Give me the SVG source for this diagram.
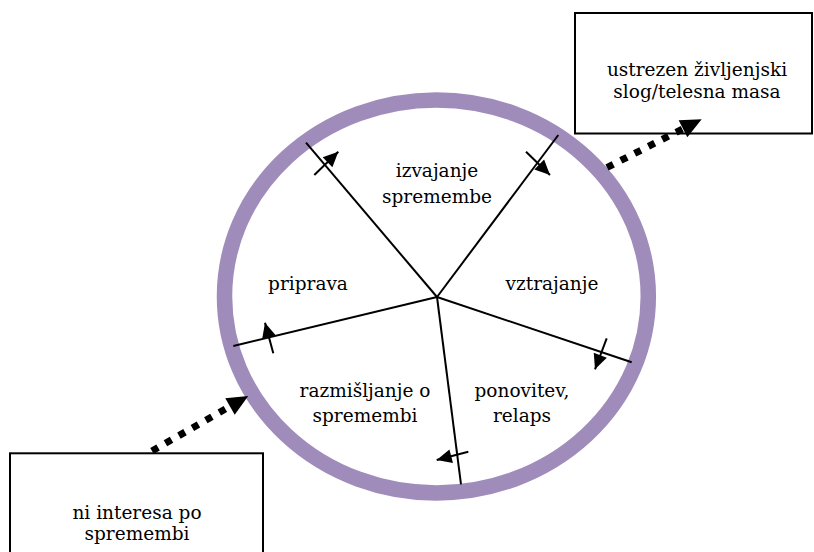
<svg xmlns="http://www.w3.org/2000/svg" width="814" height="552" viewBox="0 0 814 552">
<style>
text{font-family:"DejaVu Serif","Liberation Serif",serif;font-size:18.5px;fill:#000;text-anchor:middle}
.box{fill:#fff;stroke:#000;stroke-width:2}
.spoke{stroke:#000;stroke-width:2;fill:none}
.tick{stroke:#000;stroke-width:2;fill:none;marker-end:url(#sa)}
.dot{stroke:#000;stroke-width:7;stroke-dasharray:7 8.5;fill:none;marker-end:url(#ba)}
</style>
<defs>
<marker id="sa" markerUnits="userSpaceOnUse" markerWidth="16" markerHeight="15" refX="15" refY="7" orient="auto" viewBox="0 0 16 14" overflow="visible">
<path d="M0,0 L15,7 L0,14 Z" fill="#000"/>
</marker>
<marker id="ba" markerUnits="userSpaceOnUse" markerWidth="22" markerHeight="20" refX="0" refY="9.5" orient="auto" viewBox="0 0 22 19" overflow="visible">
<path d="M0,0 L21,9.5 L0,19 Z" fill="#000"/>
</marker>
</defs>
<g id="box-ustrezen">
<rect class="box" x="575" y="13" width="237" height="120.5"/>
<text x="697" y="76">ustrezen življenjski</text><text x="697" y="98">slog/telesna masa</text>
</g>
<g id="box-ni-interesa">
<rect class="box" x="10" y="453.3" width="253" height="110"/>
<text x="137" y="519">ni interesa po</text><text x="137" y="540">spremembi</text>
</g>
<g id="cycle">
<ellipse cx="436.4" cy="296.4" rx="211.9" ry="196.5" fill="none" stroke="#a08cbb" stroke-width="15.5"/>
</g>
<g id="connectors">
<line class="spoke" x1="437" y1="297" x2="306" y2="142.7"/>
<line class="spoke" x1="437" y1="297" x2="558.3" y2="135"/>
<line class="spoke" x1="437" y1="297" x2="631.7" y2="362.3"/>
<line class="spoke" x1="437" y1="297" x2="461" y2="484.3"/>
<line class="spoke" x1="437" y1="297" x2="233.3" y2="346"/>
<line class="tick" x1="314.3" y1="175" x2="338.3" y2="151.7"/>
<line class="tick" x1="526" y1="151.7" x2="550" y2="175"/>
<line class="tick" x1="606.7" y1="338.3" x2="595" y2="369.3"/>
<line class="tick" x1="468.3" y1="451.7" x2="436.7" y2="460"/>
<line class="tick" x1="273.3" y1="353.3" x2="265" y2="322.7"/>
<line class="dot" x1="152" y1="451" x2="230" y2="406.4"/>
<line class="dot" x1="607" y1="167.5" x2="683" y2="128.8"/>
</g>
<g id="stage-izvajanje"><text x="437" y="177">izvajanje</text><text x="437" y="203">spremembe</text></g>
<g id="stage-priprava"><text x="308" y="290">priprava</text></g>
<g id="stage-vztrajanje"><text x="552" y="290">vztrajanje</text></g>
<g id="stage-razmisljanje"><text x="365" y="397">razmišljanje o</text><text x="365" y="422">spremembi</text></g>
<g id="stage-ponovitev"><text x="522" y="397">ponovitev,</text><text x="522" y="422">relaps</text></g>
</svg>
